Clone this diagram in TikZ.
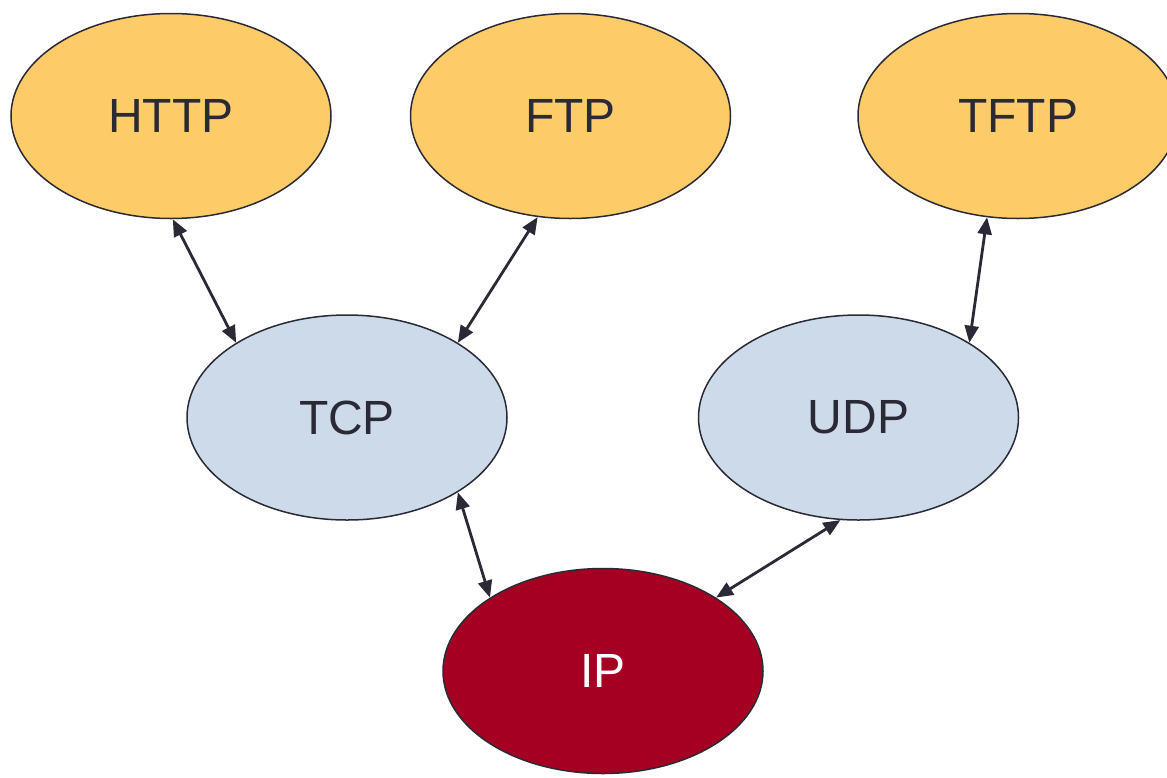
\documentclass[tikz,border=0pt]{standalone}
\usepackage{fontspec}
\setmainfont{Liberation Sans}
\usetikzlibrary{positioning,arrows.meta,shapes.geometric}
\definecolor{appfill}{HTML}{FECB69}
\definecolor{transfill}{HTML}{CCDAEA}
\definecolor{netfill}{HTML}{A50021}
\definecolor{inkdark}{HTML}{2A2A36}
\begin{document}
\begin{tikzpicture}[
    proto/.style={ellipse, draw=inkdark, line width=1.5pt, minimum width=320pt,
      minimum height=205pt, inner sep=0pt, text=inkdark,
      font=\fontsize{48}{56}\selectfont},
    app/.style={proto, fill=appfill},
    trans/.style={proto, fill=transfill},
    net/.style={proto, fill=netfill, text=white},
    link/.style={{Triangle[length=17pt,width=14pt]}-{Triangle[length=17pt,width=14pt]},
      draw=inkdark, line width=2.8pt}
  ]
  \useasboundingbox (0,0) rectangle (1167pt,-777pt);
    \node[app] (http) at (171pt,-116pt) {HTTP};
    \node[app, right=78pt of http] (ftp) {FTP};
    \node[app, right=126pt of ftp] (tftp) {TFTP};
    \node[trans, below=95pt of http, xshift=176pt] (tcp) {TCP};
    \node[trans, right=190pt of tcp] (udp) {UDP};
    \node[net, below=47pt of tcp, xshift=256pt] (ip) {IP};

    \draw[link] (http.271) -- (tcp.146);
    \draw[link] (ftp.252) -- (tcp.34);
    \draw[link] (tftp.253) -- (udp.34);
    \draw[link] (tcp.326) -- (ip.147);
    \draw[link] (udp.260) -- (ip.33);
\end{tikzpicture}
\end{document}
